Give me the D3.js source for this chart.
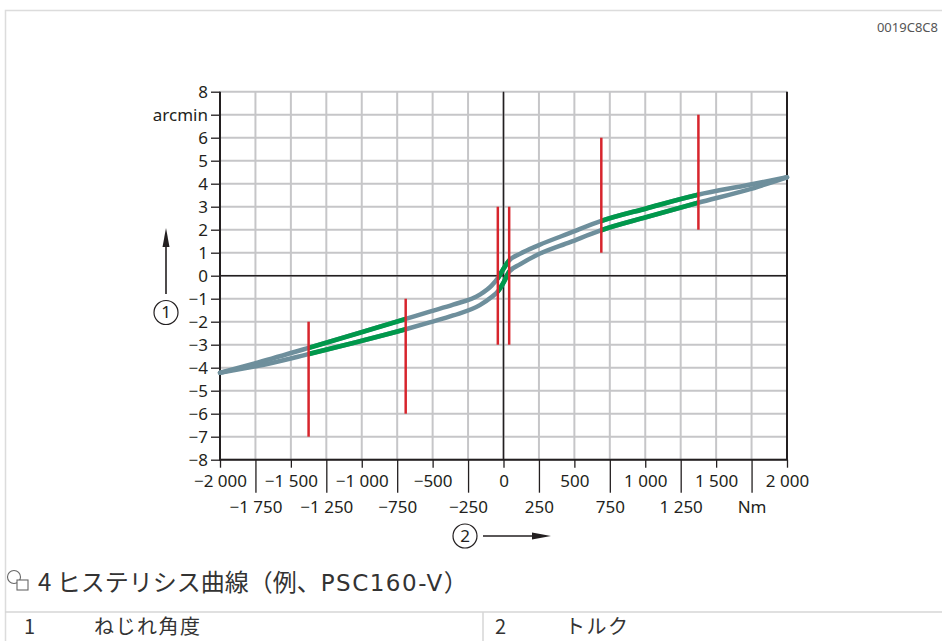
<!DOCTYPE html>
<html>
<head>
<meta charset="utf-8">
<script src="https://cdn.jsdelivr.net/npm/d3@7/dist/d3.min.js"></script>
<style>
body { margin: 0; background: #fff; }
svg { display: block; font-family: "Noto Sans", sans-serif; }
</style>
</head>
<body>
<svg id="chart"></svg>
<script>
// torque axis (Nm) and twist angle axis (arcmin)
const xTickValues = [-2000, -1750, -1500, -1250, -1000, -750, -500, -250, 0, 250, 500, 750, 1000, 1250, 1500, 1750, 2000];
const xRow1Values = [-2000, -1500, -1000, -500, 0, 500, 1000, 1500, 2000];
const xRow1Labels = ["−2 000", "−1 500", "−1 000", "−500", "0", "500", "1 000", "1 500", "2 000"];
const xRow2Values = [-1750, -1250, -750, -250, 250, 750, 1250, 1750];
const xRow2Labels = ["−1 750", "−1 250", "−750", "−250", "250", "750", "1 250", "Nm"];
const yTickValues = [-8, -7, -6, -5, -4, -3, -2, -1, 0, 1, 2, 3, 4, 5, 6, 7, 8];
const yTickLabels = ["−8", "−7", "−6", "−5", "−4", "−3", "−2", "−1", "0", "1", "2", "3", "4", "5", "6", "arcmin", "8"];

// hysteresis loop, upper branch (unloading) and lower branch (loading)
const upperTorque = [-2000, -1730, -1370, -1025, -690, -520, -355, -167, -84, -37, 0, 40, 116, 250, 470, 690, 1010, 1372, 1715, 2000];
const upperAngle  = [-4.22, -3.77, -3.13, -2.50, -1.88, -1.56, -1.26, -0.82, -0.43, -0.08, 0.30, 0.66, 0.95, 1.33, 1.86, 2.38, 2.93, 3.52, 3.93, 4.28];
const lowerTorque = [-2000, -1730, -1370, -1025, -690, -520, -355, -167, -84, -37, 0, 40, 116, 250, 470, 690, 1010, 1372, 1715, 2000];
const lowerAngle  = [-4.22, -3.92, -3.40, -2.87, -2.33, -2.03, -1.73, -1.28, -0.93, -0.66, -0.30, 0.17, 0.49, 0.94, 1.46, 1.98, 2.55, 3.17, 3.72, 4.28];

// highlighted ranges (green) and the red markers
const greenFrom = [-1375, -40, 690];
const greenTo   = [-690, 40, 1375];
const redTorque = [-1375, -690, -40, 40, 690, 1375];
const redLow    = [-7, -6, -3, -3, 1, 2];
const redHigh   = [-2, -1, 3, 3, 6, 7];

const w = 942;
const h = 641;
const plotLeft = 220, plotRight = 787, plotTop = 91.7, plotBottom = 459.7;
const ink = "#231f20";
const cjk = "'Noto Sans CJK JP', sans-serif";

const svg = d3.select("#chart")
    .attr("width", w)
    .attr("height", h);

const xScale = d3.scaleLinear().domain([-2000, 2000]).range([plotLeft, plotRight]);
const yScale = d3.scaleLinear().domain([-8, 8]).range([plotBottom, plotTop]);

// page frame
svg.append("path")
    .attr("d", `M5.5,${h} V10.5 H${w}`)
    .attr("fill", "none")
    .attr("stroke", "#dcdcdc")
    .attr("stroke-width", 1.5);

svg.append("text")
    .attr("x", 938)
    .attr("y", 32)
    .attr("text-anchor", "end")
    .attr("font-size", 13)
    .attr("fill", "#555")
    .text("0019C8C8");

// grid
svg.append("g")
    .selectAll("line")
    .data(xTickValues)
    .enter()
    .append("line")
    .attr("x1", d => xScale(d))
    .attr("x2", d => xScale(d))
    .attr("y1", plotTop)
    .attr("y2", plotBottom)
    .attr("stroke", "#c6c6c8")
    .attr("stroke-width", 2);

svg.append("g")
    .selectAll("line")
    .data(yTickValues)
    .enter()
    .append("line")
    .attr("x1", plotLeft)
    .attr("x2", plotRight)
    .attr("y1", d => yScale(d))
    .attr("y2", d => yScale(d))
    .attr("stroke", "#c6c6c8")
    .attr("stroke-width", 2);

// zero lines
svg.append("line")
    .attr("x1", xScale(0)).attr("x2", xScale(0))
    .attr("y1", plotTop).attr("y2", plotBottom)
    .attr("stroke", ink).attr("stroke-width", 1.5);
svg.append("line")
    .attr("x1", plotLeft).attr("x2", plotRight)
    .attr("y1", yScale(0)).attr("y2", yScale(0))
    .attr("stroke", ink).attr("stroke-width", 1.5);

// frame: left, bottom, right
svg.append("path")
    .attr("d", `M${plotLeft},${plotTop} V${plotBottom} H${plotRight} V${plotTop}`)
    .attr("fill", "none")
    .attr("stroke", ink)
    .attr("stroke-width", 2);

// y axis
const yAxis = d3.axisLeft(yScale)
    .tickValues(yTickValues)
    .tickFormat((d, i) => yTickLabels[i])
    .tickSize(9)
    .tickPadding(3);

const gy = svg.append("g")
    .attr("transform", `translate(${plotLeft},0)`)
    .call(yAxis);
gy.select(".domain").remove();
gy.selectAll("line").attr("stroke", ink).attr("stroke-width", 1.3);
gy.selectAll("text").attr("font-size", 17).attr("fill", ink).attr("font-family", "Noto Sans");

// x axis, two rows
const xAxis1 = d3.axisBottom(xScale)
    .tickValues(xRow1Values)
    .tickFormat((d, i) => xRow1Labels[i])
    .tickSize(8)
    .tickPadding(7);
const gx1 = svg.append("g")
    .attr("transform", `translate(0,${plotBottom})`)
    .call(xAxis1);
gx1.select(".domain").remove();

const xAxis2 = d3.axisBottom(xScale)
    .tickValues(xRow2Values)
    .tickFormat((d, i) => xRow2Labels[i])
    .tickSize(33)
    .tickPadding(8);
const gx2 = svg.append("g")
    .attr("transform", `translate(0,${plotBottom})`)
    .call(xAxis2);
gx2.select(".domain").remove();

[gx1, gx2].forEach(g => {
    g.selectAll("line").attr("stroke", ink).attr("stroke-width", 1.3);
    g.selectAll("text").attr("font-size", 17).attr("fill", ink).attr("font-family", "Noto Sans");
});

// curves
const upper = upperTorque.map((t, i) => [t, upperAngle[i]]);
const lower = lowerTorque.map((t, i) => [t, lowerAngle[i]]);

const line = d3.line()
    .x(d => xScale(d[0]))
    .y(d => yScale(d[1]))
    .curve(d3.curveMonotoneX);

svg.append("g")
    .selectAll("path")
    .data([upper, lower])
    .enter()
    .append("path")
    .attr("d", line)
    .attr("fill", "none")
    .attr("stroke", "#6e8f9c")
    .attr("stroke-width", 4.5)
    .attr("stroke-linecap", "round");

const clip = svg.append("clipPath").attr("id", "greenClip");
clip.selectAll("rect")
    .data(greenFrom)
    .enter()
    .append("rect")
    .attr("x", d => xScale(d))
    .attr("width", (d, i) => xScale(greenTo[i]) - xScale(d))
    .attr("y", plotTop)
    .attr("height", plotBottom - plotTop);

svg.append("g")
    .attr("clip-path", "url(#greenClip)")
    .selectAll("path")
    .data([upper, lower])
    .enter()
    .append("path")
    .attr("d", line)
    .attr("fill", "none")
    .attr("stroke", "#00984b")
    .attr("stroke-width", 4.8);

// red markers
svg.append("g")
    .selectAll("line")
    .data(redTorque)
    .enter()
    .append("line")
    .attr("x1", d => xScale(d))
    .attr("x2", d => xScale(d))
    .attr("y1", (d, i) => yScale(redHigh[i]))
    .attr("y2", (d, i) => yScale(redLow[i]))
    .attr("stroke", "#d7252d")
    .attr("stroke-width", 2.5);

// axis pointers with numbered circles
function circled(cx, cy, label) {
    svg.append("circle")
        .attr("cx", cx).attr("cy", cy).attr("r", 12)
        .attr("fill", "none").attr("stroke", ink).attr("stroke-width", 1.2);
    svg.append("text")
        .attr("x", cx).attr("y", cy)
        .attr("dy", "0.35em")
        .attr("text-anchor", "middle")
        .attr("font-size", 17)
        .attr("fill", ink)
        .text(label);
}

const ax = 166;
svg.append("line")
    .attr("x1", ax).attr("x2", ax)
    .attr("y1", 294).attr("y2", 242)
    .attr("stroke", ink).attr("stroke-width", 1.6);
svg.append("path")
    .attr("d", `M${ax},228 L${ax - 3.5},247 L${ax + 3.5},247 Z`)
    .attr("fill", ink);
circled(ax, 312.5, "1");

const ay = 536;
circled(465, ay, "2");
svg.append("line")
    .attr("x1", 483).attr("x2", 536)
    .attr("y1", ay).attr("y2", ay)
    .attr("stroke", ink).attr("stroke-width", 1.6);
svg.append("path")
    .attr("d", `M551,${ay} L532,${ay - 3.5} L532,${ay + 3.5} Z`)
    .attr("fill", ink);

// caption
const cap = svg.append("g").attr("fill", "none").attr("stroke", "#666").attr("stroke-width", 1.1);
cap.append("circle").attr("cx", 14).attr("cy", 577).attr("r", 6.5);
cap.append("rect").attr("x", 17).attr("y", 580).attr("width", 11).attr("height", 10).attr("fill", "#fff");

const caption = svg.append("text")
    .attr("x", 38)
    .attr("y", 591)
    .attr("font-family", cjk)
    .attr("font-size", 24)
    .attr("fill", "#333");
caption.append("tspan").text("4 ");
caption.append("tspan").text("ヒステリシス曲線（例、");
caption.append("tspan")
    .attr("font-family", "'DejaVu Sans', sans-serif")
    .attr("font-size", 23)
    .attr("letter-spacing", 1.5)
    .text("PSC160-V");
caption.append("tspan").text("）");

// legend table
svg.append("line")
    .attr("x1", 5).attr("x2", w)
    .attr("y1", 612).attr("y2", 612)
    .attr("stroke", "#d6d6d6").attr("stroke-width", 1.5);
svg.append("line")
    .attr("x1", 483).attr("x2", 483)
    .attr("y1", 612).attr("y2", h)
    .attr("stroke", "#d6d6d6").attr("stroke-width", 1.5);

const legendNum = ["1", "2"];
const legendText = ["ねじれ角度", "トルク"];
const legendX = [24, 495];
legendNum.forEach((n, i) => {
    svg.append("text")
        .attr("x", legendX[i]).attr("y", 634)
        .attr("font-family", cjk)
        .attr("font-size", 20).attr("fill", "#333")
        .text(n);
    svg.append("text")
        .attr("x", legendX[i] + 70).attr("y", 634)
        .attr("font-family", cjk)
        .attr("font-size", 20).attr("fill", "#333")
        .attr("letter-spacing", 1.5)
        .text(legendText[i]);
});
</script>
</body>
</html>
